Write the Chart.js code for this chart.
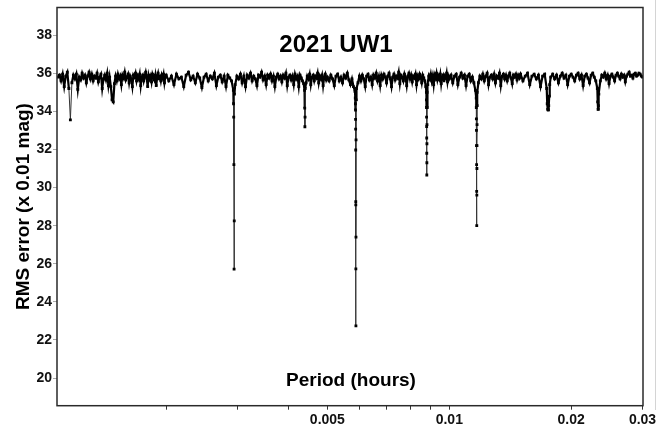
<!DOCTYPE html>
<html>
<head>
<meta charset="utf-8">
<script src="https://cdn.jsdelivr.net/npm/chart.js@4/dist/chart.umd.min.js"></script>
<style>
  html, body { margin: 0; padding: 0; background: #ffffff; }
  #wrap { width: 669px; height: 430px; position: relative; }
</style>
</head>
<body>
<div id="wrap"><canvas id="c" width="669" height="430"></canvas></div>
<script>
// ---------- chart text ----------
const chartTitle = "2021 UW1";
const xAxisTitle = "Period (hours)";
const yAxisTitle = "RMS error (x 0.01 mag)";

// ---------- tick values / labels ----------
const xTickValues = [0.002, 0.003, 0.004, 0.005, 0.006, 0.007, 0.008, 0.009, 0.01, 0.02, 0.03];
const xTickLabels = ["", "", "", "0.005", "", "", "", "", "0.01", "0.02", "0.03"];
const yTickValues = [20, 22, 24, 26, 28, 30, 32, 34, 36, 38];

// ---------- data: period (hours) and RMS error (x 0.01 mag) ----------
const periodsA = [
  0.00108,0.00109,0.00110,0.00111,0.00112,0.00113,0.00114,0.00115,0.00116,0.00117,
  0.00118,0.00119,0.00120,0.00121,0.00122,0.00123,0.00124,0.00125,0.00126,0.00127,
  0.00128,0.00129,0.00130,0.00131,0.00132,0.00133,0.00134,0.00135,0.00136,0.00137,
  0.00138,0.00139,0.00140,0.00141,0.00142,0.00143,0.00144,0.00145,0.00146,0.00147,
  0.00148,0.00149,0.00150,0.00151,0.00152,0.00153,0.00154,0.00155,0.00156,0.00157,
  0.00158,0.00159,0.00160,0.00161,0.00162,0.00163,0.00164,0.00165,0.00166,0.00167,
  0.00168,0.00169,0.00170,0.00171,0.00172,0.00173,0.00174,0.00175,0.00176,0.00177,
  0.00178,0.00179,0.00180,0.00181,0.00182,0.00183,0.00184,0.00185,0.00186,0.00187,
  0.00188,0.00189,0.00190,0.00191,0.00192,0.00193,0.00194,0.00195,0.00196,0.00197,
  0.00198,0.00199
];
const rmsA = [
  35.8,35.9,35.6,35.95,35.3,35.85,36.05,35.2,33.55,35.5,
  35.9,35.7,35.95,35.15,35.8,35.65,36.0,35.75,35.9,35.5,
  35.85,36.05,35.7,35.95,35.6,35.85,35.75,36.0,35.55,35.8,
  35.95,35.2,35.7,35.9,35.65,36.0,35.35,35.8,35.3,34.6,
  34.5,35.45,35.85,35.6,35.95,35.7,35.85,35.4,35.9,35.75,
  36.05,35.65,35.8,35.95,35.5,35.85,35.7,35.3,35.9,35.8,
  36.0,35.6,35.85,35.7,35.95,35.35,35.8,35.9,35.6,35.85,
  36.05,35.75,35.3,35.9,35.7,35.85,35.55,35.95,35.8,35.65,
  35.9,35.35,35.8,36.0,35.7,35.85,35.6,35.9,35.75,35.95,
  35.5,35.8
];

const periodsB = [
  0.00200,0.00203,0.00206,0.00209,0.00212,0.00215,0.00218,0.00221,0.00224,0.00227,
  0.00230,0.00233,0.00236,0.00239,0.00242,0.00245,0.00248,0.00251,0.00254,0.00257,
  0.00260,0.00263,0.00266,0.00269,0.00272,0.00275,0.00278,0.00281,0.00284,0.00287,
  0.00290,0.00293,0.002933,0.002936,0.002939,0.002942,0.002945,0.002948,0.00296,0.00299,
  0.00302,0.00305,0.00308,0.00311,0.00314,0.00317,0.00320,0.00323,0.00326,0.00329,
  0.00332,0.00335,0.00338,0.00341,0.00344,0.00347,0.00350,0.00353,0.00356,0.00359,
  0.00362,0.00365,0.00368,0.00371,0.00374,0.00377,0.00380,0.00383,0.00386,0.00389,
  0.00392,0.00395,0.00398,0.00401,0.00404,0.00407,0.00410,0.00413,0.00416,0.00419,
  0.00422,0.00425,0.00428,0.00431,0.00434,0.00437,0.004392,0.004396,0.00440,0.004404,
  0.004408,0.00443,0.00446,0.00449,0.00452,0.00455,0.00458,0.00461,0.00464,0.00467,
  0.00470,0.00473,0.00476,0.00479,0.00482,0.00485,0.00488,0.00491,0.00494,0.00497
];
const rmsB = [
  35.9,35.6,35.85,35.4,35.95,35.7,35.8,35.3,35.9,36.05,
  35.65,35.85,35.5,35.95,35.75,35.25,35.8,35.95,35.6,35.85,
  35.7,36.0,35.35,35.8,35.9,35.55,35.85,35.3,35.9,35.75,
  35.6,35.1,34.4,33.7,31.2,25.72,28.25,34.9,35.4,35.85,
  35.7,35.95,35.5,35.85,35.3,35.9,35.75,36.0,35.6,35.85,
  35.7,35.35,35.9,35.8,36.05,35.65,35.85,35.4,35.9,35.75,
  35.95,35.6,35.85,35.3,35.8,35.95,35.7,35.85,35.55,35.9,
  35.75,36.0,35.35,35.8,35.9,35.65,35.85,35.4,35.95,35.7,
  35.85,35.3,35.9,35.75,35.6,35.45,35.1,34.17,33.19,33.7,
  35.2,35.5,35.85,35.7,35.95,35.4,35.8,35.9,35.6,35.85,
  35.75,36.0,35.5,35.85,35.7,35.9,35.35,35.8,35.95,35.65
];

const periodsC = [
  0.00500,0.00505,0.00510,0.00515,0.00520,0.00525,0.00530,0.00535,0.00540,0.00545,
  0.00550,0.00555,0.00560,0.00565,0.00570,0.00575,0.00580,0.00585,0.00586,0.005865,
  0.005868,0.00587,0.005872,0.005874,0.005876,0.005877,0.005879,0.005881,0.005883,0.005885,
  0.005888,0.00590,0.00595,0.00600,0.00605,0.00610,0.00615,0.00620,0.00625,0.00630,
  0.00635,0.00640,0.00645,0.00650,0.00655,0.00660,0.00665,0.00670,0.00675,0.00680,
  0.00685,0.00690,0.00695,0.00700,0.00705,0.00710,0.00715,0.00720,0.00725,0.00730,
  0.00735,0.00740,0.00745,0.00750,0.00755,0.00760,0.00765,0.00770,0.00775,0.00780,
  0.00785,0.00790,0.00795,0.00800,0.00805,0.00810,0.00815,0.00820,0.00825,0.00830,
  0.00835,0.00840,0.00845,0.00850,0.00855,0.00860,0.00865,0.00870,0.00875,0.00878,
  0.008783,0.008786,0.008789,0.008792,0.008795,0.008798,0.00880,0.008803,0.008806,0.008809,
  0.008812,0.008816,0.00885,0.00890,0.00895,0.00900,0.00905,0.00910,0.00915,0.00920,
  0.00925,0.00930,0.00935,0.00940,0.00945,0.00950,0.00955,0.00960,0.00965,0.00970,
  0.00975,0.00980,0.00985,0.00990,0.00995
];
const rmsC = [
  35.8,35.6,35.9,35.7,35.35,35.85,35.95,35.6,35.8,35.5,
  35.9,35.75,36.0,35.65,35.4,35.7,35.3,35.05,34.7,34.4,
  34.07,33.58,33.07,31.97,29.26,29.09,25.73,22.74,27.4,32.5,
  34.6,35.2,35.5,35.85,35.6,35.9,35.7,35.3,35.85,35.95,
  35.65,35.8,35.4,35.9,35.75,36.0,35.6,35.85,35.35,35.9,
  35.7,35.95,35.8,35.5,35.85,36.0,35.7,35.3,35.8,35.95,
  35.65,35.85,35.75,36.05,35.45,35.9,35.8,35.6,35.95,35.75,
  35.35,35.85,36.0,35.7,35.9,35.55,35.85,35.75,35.95,35.4,
  35.85,35.7,35.95,35.8,35.5,35.9,35.75,35.6,35.3,35.0,
  34.6,34.2,33.7,33.2,32.6,31.8,30.66,31.3,32.3,33.3,
  34.2,35.0,35.4,35.85,35.7,35.95,35.6,35.85,35.4,35.9,
  35.75,36.0,35.65,35.85,35.7,35.95,35.45,35.8,35.9,35.6,
  35.85,35.75,36.0,35.55,35.85
];

const periodsD = [
  0.0100,0.0101,0.0102,0.0103,0.0104,0.0105,0.0106,0.0107,0.0108,0.0109,
  0.0110,0.0111,0.0112,0.0113,0.0114,0.0115,0.0116,0.011655,0.01166,0.011665,
  0.01167,0.011675,0.01168,0.011685,0.01169,0.011695,0.0117,0.011705,0.01171,0.011715,
  0.01172,0.0118,0.0119,0.0120,0.0121,0.0122,0.0123,0.0124,0.0125,0.0126,
  0.0127,0.0128,0.0129,0.0130,0.0131,0.0132,0.0133,0.0134,0.0135,0.0136,
  0.0137,0.0138,0.0139,0.0140,0.0141,0.0142,0.0143,0.0144,0.0145,0.0146,
  0.0147,0.0148,0.0149,0.0150,0.0152,0.0154,0.0156,0.0158,0.0160,0.0162,
  0.0164,0.0166,0.0168,0.0170,0.0172,0.0174,0.01745,0.0175,0.01755,0.0176,
  0.01765,0.0177,0.0178,0.0180,0.0182,0.0184,0.0186,0.0188,0.0190,0.0192,
  0.0194,0.0196,0.0198,0.0200,0.0202,0.0204,0.0206,0.0208,0.0210,0.0212,
  0.0214,0.0216,0.0218,0.0220,0.0222,0.0224,0.0226,0.0228,0.0230,0.0232,
  0.02325,0.0233,0.02335,0.0234,0.0236,0.0238,0.0240,0.0242,0.0244,0.0246,
  0.0248,0.0250,0.0252,0.0254,0.0256,0.0258,0.0260,0.0262,0.0264,0.0266,
  0.0268,0.0270,0.0272,0.0274,0.0276,0.0278,0.0280,0.0282,0.0284,0.0286,
  0.0288,0.0290,0.0292,0.0294,0.0296,0.0298,0.0300
];
const rmsD = [
  35.7,35.9,35.5,35.85,35.95,35.4,35.8,36.0,35.75,35.9,
  35.35,35.85,35.95,35.6,35.8,35.5,35.1,34.7,34.2,33.6,
  33.0,32.2,31.2,29.8,28.0,29.6,31.0,32.2,33.3,34.3,
  35.0,35.5,35.85,35.7,35.95,35.6,35.85,36.0,35.4,35.8,
  35.9,35.7,35.95,35.5,35.85,35.75,36.0,35.35,35.85,35.95,
  35.7,35.9,35.6,35.85,36.0,35.75,35.45,35.9,35.8,35.95,
  35.65,35.9,35.75,35.95,35.6,35.85,36.0,35.4,35.85,35.95,
  35.7,35.9,35.3,35.85,35.95,35.2,34.4,34.1,34.07,34.3,
  34.8,35.4,35.8,35.95,35.7,35.9,35.5,35.85,36.0,35.75,
  35.9,35.4,35.85,35.95,35.8,35.6,35.9,36.0,35.7,35.9,
  35.35,35.85,35.95,35.75,35.5,35.9,36.0,35.8,35.6,35.2,
  34.5,34.1,34.3,34.9,35.6,35.9,35.8,36.0,35.7,35.9,
  35.45,35.85,35.95,35.8,35.6,35.9,36.0,35.85,35.7,35.95,
  35.8,35.9,35.55,35.85,35.95,36.05,35.85,35.9,35.75,35.95,
  36.0,35.85,35.9,36.0,35.95,35.85,35.8
];

// ---------- build the point table for the library ----------
const allPeriods = [].concat(periodsA, periodsB, periodsC, periodsD);
const allRms = [].concat(rmsA, rmsB, rmsC, rmsD);
const points = allPeriods.map((p, i) => ({ x: p, y: allRms[i] }));

const FONT = '"Liberation Sans", Arial, Helvetica, sans-serif';

const decorPlugin = {
  id: 'decor',
  afterDraw(chart) {
    const { ctx, chartArea: a } = chart;
    ctx.save();
    // plot frame
    ctx.strokeStyle = '#2a2a2a';
    ctx.lineWidth = 1.5;
    ctx.strokeRect(a.left, a.top, a.right - a.left, a.bottom - a.top);
    // in-plot titles
    ctx.fillStyle = '#000';
    ctx.textAlign = 'center';
    ctx.textBaseline = 'middle';
    ctx.font = 'bold 24px ' + FONT;
    ctx.fillText(chartTitle, 336, 45);
    ctx.font = 'bold 19px ' + FONT;
    ctx.fillText(xAxisTitle, 351, 381);
    // faint outer edge line at the right
    ctx.strokeStyle = '#d4d4d4';
    ctx.lineWidth = 1;
    ctx.beginPath();
    ctx.moveTo(655.5, 0);
    ctx.lineTo(655.5, 410);
    ctx.stroke();
    ctx.restore();
  }
};

new Chart(document.getElementById('c'), {
  type: 'scatter',
  data: {
    datasets: [{
      data: points,
      showLine: true,
      borderColor: '#000',
      borderWidth: 2.2,
      segment: {
        borderWidth: c => (Math.min(c.p0.parsed.y, c.p1.parsed.y) < 33.9 ? 1 : 2.2),
        borderColor: c => (Math.min(c.p0.parsed.y, c.p1.parsed.y) < 33.9 ? '#333' : '#000')
      },
      tension: 0,
      pointStyle: 'rect',
      pointRadius: 2,
      pointBorderWidth: 0,
      pointBackgroundColor: '#000'
    }]
  },
  options: {
    responsive: false,
    animation: false,
    events: [],
    layout: { padding: { top: 7.5, right: 26, bottom: 0, left: 0 } },
    plugins: { legend: { display: false }, tooltip: { enabled: false }, title: { display: false } },
    scales: {
      x: {
        type: 'logarithmic',
        min: 0.001075,
        max: 0.03008,
        afterBuildTicks: s => { s.ticks = xTickValues.map(v => ({ value: v })); },
        afterFit: s => { s.height = 24.3; s.paddingLeft = 0; s.paddingRight = 0; },
        ticks: {
          autoSkip: false,
          maxRotation: 0,
          padding: 2,
          color: '#111',
          font: { family: FONT, size: 14, weight: 'bold' },
          callback: (v, i) => xTickLabels[i]
        },
        grid: { drawOnChartArea: false, drawTicks: true, tickLength: 4, color: '#333', lineWidth: 1 },
        border: { display: false }
      },
      y: {
        type: 'linear',
        min: 18.55,
        max: 39.45,
        afterBuildTicks: s => { s.ticks = yTickValues.map(v => ({ value: v })); },
        afterFit: s => { s.width = 57; s.paddingTop = 0; s.paddingBottom = 0; },
        ticks: {
          padding: 1,
          color: '#111',
          font: { family: FONT, size: 14, weight: 'bold' }
        },
        grid: { drawOnChartArea: false, drawTicks: true, tickLength: 4, color: '#aaa', lineWidth: 1 },
        border: { display: false },
        title: {
          display: true,
          text: yAxisTitle,
          color: '#000',
          font: { family: FONT, size: 19, weight: 'bold' },
          padding: { top: 12.6, bottom: 0 }
        }
      }
    }
  },
  plugins: [decorPlugin]
});
</script>
</body>
</html>
